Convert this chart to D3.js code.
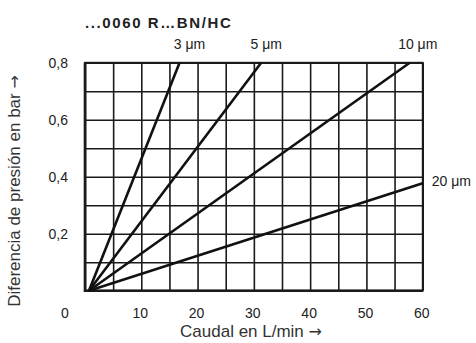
<!DOCTYPE html>
<html>
<head>
<meta charset="utf-8">
<script src="https://cdn.jsdelivr.net/npm/d3@7"></script>
<style>
  html, body { margin: 0; padding: 0; background: #fff; }
  svg { display: block; font-family: "Liberation Sans", Arial, sans-serif; }
</style>
</head>
<body>
<svg id="chart" width="476" height="343"></svg>
<script>
// Pressure drop vs. flow for the ...0060 R...BN/HC filter element
const chartTitle = "...0060 R\u2026BN/HC";
const grades     = ["3 \u03bcm", "5 \u03bcm", "10 \u03bcm", "20 \u03bcm"];
const flowStart  = [0.7, 0.7, 0.7, 0.7];      // L/min
const dpStart    = [0, 0, 0, 0];              // bar
const flowEnd    = [16.8, 31.3, 57.7, 60];    // L/min
const dpEnd      = [0.8, 0.8, 0.8, 0.377];    // bar
const xTickLabels = [0, 10, 20, 30, 40, 50, 60];
const yTickLabels = [0.2, 0.4, 0.6, 0.8];
const xTitle = "Caudal en L/min ";
const yTitle = "Diferencia de presi\u00f3n en bar ";
const arrow = "\u2192";

const svg = d3.select("#chart");
const plotL = 85, plotR = 422.7, plotT = 62.7, plotB = 290.7;

const x = d3.scaleLinear().domain([0, 60]).range([plotL, plotR]);
const y = d3.scaleLinear().domain([0, 0.8]).range([plotB, plotT]);

const ink = "#1a1a1a";

// grid: a line every 5 L/min and every 0.1 bar
const gx = svg.append("g")
  .attr("transform", `translate(0,${plotB})`)
  .call(d3.axisBottom(x).tickValues(d3.range(0, 61, 5)).tickSize(-(plotB - plotT)).tickFormat(""));
const gy = svg.append("g")
  .attr("transform", `translate(${plotL},0)`)
  .call(d3.axisLeft(y).tickValues(d3.range(0, 0.81, 0.1)).tickSize(-(plotR - plotL)).tickFormat(""));
[gx, gy].forEach(g => {
  g.select(".domain").remove();
  g.selectAll(".tick line").attr("stroke", ink).attr("stroke-width", 1.6);
});

// frame, heavier on the left and bottom
svg.append("rect")
  .attr("x", plotL).attr("y", plotT)
  .attr("width", plotR - plotL).attr("height", plotB - plotT)
  .attr("fill", "none").attr("stroke", ink).attr("stroke-width", 1.8);
svg.append("path")
  .attr("d", d3.line()([[plotL, plotT], [plotL, plotB], [plotR, plotB]]))
  .attr("fill", "none").attr("stroke", ink).attr("stroke-width", 2.6);

// tick labels
const fmt = d3.format(".1f");
svg.append("g").selectAll("text").data(yTickLabels).join("text")
  .attr("x", plotL - 17).attr("y", d => y(d) + 5)
  .attr("text-anchor", "end")
  .attr("font-size", 14).attr("fill", "#222")
  .text(d => fmt(d).replace(".", ","));
svg.append("g").selectAll("text").data(xTickLabels).join("text")
  .attr("x", d => x(d) + (d === 0 ? -20 : -1)).attr("y", 318)
  .attr("text-anchor", "middle")
  .attr("font-size", 14).attr("fill", "#222")
  .text(d => d);

// characteristic lines per filter grade
const lineGen = d3.line().x(d => x(d[0])).y(d => y(d[1]));
const series = grades.map((g, i) => ({
  grade: g,
  pts: [[flowStart[i], dpStart[i]], [flowEnd[i], dpEnd[i]]]
}));
svg.append("g").selectAll("path").data(series).join("path")
  .attr("d", d => lineGen(d.pts))
  .attr("fill", "none").attr("stroke", "#111")
  .attr("stroke-width", 2.6).attr("stroke-linecap", "butt");

// grade labels at the line ends
const labelOffset = [[10, -14, "middle"], [5, -14, "middle"], [8, -14, "middle"], [9, 3, "start"]];
svg.append("g").selectAll("text").data(series).join("text")
  .attr("x", (d, i) => x(d.pts[1][0]) + labelOffset[i][0])
  .attr("y", (d, i) => y(d.pts[1][1]) + labelOffset[i][1])
  .attr("text-anchor", (d, i) => labelOffset[i][2])
  .attr("font-size", 14).attr("fill", "#222")
  .text(d => d.grade);

// titles
svg.append("text")
  .attr("x", plotL).attr("y", 28)
  .attr("font-size", 15).attr("font-weight", "bold").attr("fill", "#222")
  .attr("letter-spacing", 1.6)
  .text(chartTitle);

const xt = svg.append("text")
  .attr("x", 251).attr("y", 337)
  .attr("text-anchor", "middle")
  .attr("font-size", 17).attr("fill", "#333");
xt.append("tspan").text(xTitle);
xt.append("tspan").attr("font-family", "DejaVu Sans").attr("font-size", 16).text(arrow);

const yt = svg.append("text")
  .attr("transform", "translate(20,191) rotate(-90)")
  .attr("text-anchor", "middle")
  .attr("font-size", 17).attr("fill", "#333");
yt.append("tspan").text(yTitle);
yt.append("tspan").attr("font-family", "DejaVu Sans").attr("font-size", 16).text(arrow);
</script>
</body>
</html>
